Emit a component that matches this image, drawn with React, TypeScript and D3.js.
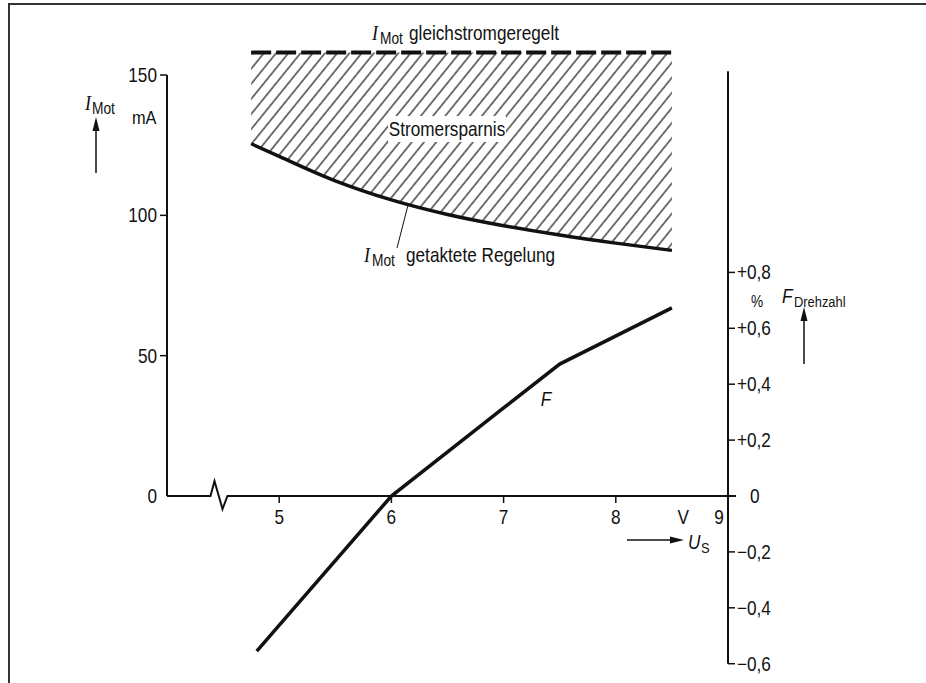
import * as d3 from 'd3'

// Versorgungsspannung U_S (V)
const xTicks = [5, 6, 7, 8, 9]
const leftTicks = [0, 50, 100, 150]
const rightTicks = [-0.6, -0.4, -0.2, 0, 0.2, 0.4, 0.6, 0.8]
const rightTickLabels = ['−0,6', '−0,4', '−0,2', '0', '+0,2', '+0,4', '+0,6', '+0,8']

// I_Mot getaktete Regelung (mA)
const usCurve = [4.75, 5, 5.5, 6, 6.5, 7, 7.5, 8, 8.5]
const iGetaktet = [125.5, 121, 112.3, 105.5, 100.3, 96.3, 93, 90.1, 87.5]
// I_Mot gleichstromgeregelt (mA), constant
const iGleichstrom = 158

// F Drehzahl (%)
const usF = [4.8, 6, 7, 7.5, 8.5]
const fDrehzahl = [-0.555, 0, 0.315, 0.472, 0.673]

const FONT = '"Liberation Sans", Arial, sans-serif'
const SERIF = '"Liberation Serif", "DejaVu Serif", serif'
const SX = 0.86 // condensed look

type TProps = {
  x: number
  y: number
  size: number
  anchor?: 'start' | 'middle' | 'end'
  italic?: boolean
  serif?: boolean
  children: any
}

// text squeezed horizontally to mimic the condensed type of the original
const T = ({ x, y, size, anchor = 'start', italic, serif, children }: TProps) => (
  <text
    transform={`translate(${x},${y}) scale(${SX},1)`}
    fontSize={size}
    textAnchor={anchor}
    fontStyle={italic ? 'italic' : 'normal'}
    fontFamily={serif ? SERIF : FONT}
    fill="#111"
  >
    {children}
  </text>
)

export default function App() {
  const width = 926
  const height = 683

  const x = d3.scaleLinear().domain([4, 9]).range([167, 728])
  const yI = d3.scaleLinear().domain([0, 150]).range([496, 75])
  const yF = d3.scaleLinear().domain([-0.6, 0.8]).range([663.7, 272.4])

  const x0 = x(4)
  const x9 = x(9)
  const base = yI(0)

  const curvePts: [number, number][] = usCurve.map((u, i) => [u, iGetaktet[i]])
  const lineI = d3
    .line<[number, number]>()
    .x((d) => x(d[0]))
    .y((d) => yI(d[1]))
    .curve(d3.curveMonotoneX)

  const areaI = d3
    .area<[number, number]>()
    .x((d) => x(d[0]))
    .y0(() => yI(iGleichstrom))
    .y1((d) => yI(d[1]))
    .curve(d3.curveMonotoneX)

  const lineF = d3
    .line<number>()
    .x((d, i) => x(usF[i]))
    .y((d) => yF(d))

  const dashY = yI(iGleichstrom)
  const xStart = x(usCurve[0])
  const xEnd = x(usCurve[usCurve.length - 1])

  // break on the x axis
  const bx = x(4.45)
  const zig = `M${x0},${base}H${bx - 7}L${bx - 3},${base - 15}L${bx + 5},${base + 13}L${bx + 10},${base}H${x9 + 8}`

  // leader line for the lower curve label
  const leadU = 6.15
  const leadY = yI(105.5 + (100.3 - 105.5) * ((leadU - 6) / 0.5))

  return (
    <svg
      width={width}
      height={height}
      style={{ position: 'absolute', left: 0, top: 0, background: '#fff' }}
      fontFamily={FONT}
    >
      <defs>
        <pattern
          id="hatch"
          width={9.5}
          height={10}
          patternUnits="userSpaceOnUse"
          patternTransform="rotate(39)"
        >
          <line x1={1} y1={0} x2={1} y2={10} stroke="#000" strokeWidth={1.1} />
        </pattern>
      </defs>

      {/* frame */}
      <path d={`M9,${height}V4H${width}`} fill="none" stroke="#333" strokeWidth={2} />

      {/* hatched saving area */}
      <path d={areaI(curvePts) || undefined} fill="url(#hatch)" />
      <line
        x1={xStart}
        x2={xEnd}
        y1={dashY}
        y2={dashY}
        stroke="#111"
        strokeWidth={4}
        strokeDasharray="20 5"
      />
      <path d={lineI(curvePts) || undefined} fill="none" stroke="#111" strokeWidth={3.5} />

      {/* F curve */}
      <path d={lineF(fDrehzahl) || undefined} fill="none" stroke="#111" strokeWidth={3.5} />

      {/* left axis */}
      <line x1={x0} x2={x0} y1={yI(150)} y2={base} stroke="#111" strokeWidth={2} />
      {leftTicks.map((t) => (
        <g key={t}>
          {t > 0 && <line x1={x0 - 7} x2={x0} y1={yI(t)} y2={yI(t)} stroke="#111" strokeWidth={1.5} />}
          <T x={x0 - 10} y={yI(t) + 7} size={20} anchor="end">
            {t}
          </T>
        </g>
      ))}
      <T x={85} y={110} size={21} italic serif>
        I
      </T>
      <T x={92} y={114} size={16}>
        Mot
      </T>
      <T x={132} y={124} size={19}>
        mA
      </T>
      <line x1={96} x2={96} y1={173} y2={128} stroke="#111" strokeWidth={1.5} />
      <path d="M96,117L92.5,131H99.5Z" fill="#111" />

      {/* x axis */}
      <path d={zig} fill="none" stroke="#111" strokeWidth={2} />
      {xTicks.map((t) => (
        <g key={t}>
          {t < 9 && <line x1={x(t)} x2={x(t)} y1={base} y2={base + 7} stroke="#111" strokeWidth={1.5} />}
          <T x={t < 9 ? x(t) : x(t) - 9} y={base + 28} size={20} anchor="middle">
            {t}
          </T>
        </g>
      ))}
      <T x={x(8.6)} y={base + 28} size={20} anchor="middle">
        V
      </T>
      <line x1={627} x2={672} y1={540} y2={540} stroke="#111" strokeWidth={1.5} />
      <path d="M684,540L670,536.5V543.5Z" fill="#111" />
      <T x={688} y={549} size={20} italic>
        U
      </T>
      <T x={701} y={553} size={15}>
        S
      </T>

      {/* right axis */}
      <line x1={x9} x2={x9} y1={yF(1.52)} y2={yF(-0.6)} stroke="#111" strokeWidth={2} />
      {rightTicks.map((t, i) => (
        <g key={t}>
          {t !== 0 && <line x1={x9} x2={x9 + 7} y1={yF(t)} y2={yF(t)} stroke="#111" strokeWidth={1.5} />}
          <T x={t === 0 ? x9 + 22 : x9 + 9} y={yF(t) + 7} size={20}>
            {rightTickLabels[i]}
          </T>
        </g>
      ))}
      <T x={757} y={307} size={16} anchor="middle">
        %
      </T>
      <T x={782} y={303} size={20} italic>
        F
      </T>
      <T x={794} y={307} size={15}>
        Drehzahl
      </T>
      <line x1={804} x2={804} y1={364} y2={319} stroke="#111" strokeWidth={1.5} />
      <path d="M804,307L800.5,321H807.5Z" fill="#111" />

      {/* annotations */}
      <T x={372} y={40} size={21} italic serif>
        I
      </T>
      <T x={380} y={44} size={16}>
        Mot
      </T>
      <T x={409} y={40} size={20}>
        gleichstromgeregelt
      </T>

      <rect x={388} y={116} width={118} height={26} fill="#fff" />
      <T x={447} y={136} size={20} anchor="middle">
        Stromersparnis
      </T>

      <line x1={397} x2={x(leadU)} y1={248} y2={leadY} stroke="#111" strokeWidth={1} />
      <T x={364} y={262} size={21} italic serif>
        I
      </T>
      <T x={372} y={266} size={16}>
        Mot
      </T>
      <T x={406} y={262} size={20}>
        getaktete Regelung
      </T>

      <T x={546} y={406} size={20} anchor="middle" italic>
        F
      </T>
    </svg>
  )
}
